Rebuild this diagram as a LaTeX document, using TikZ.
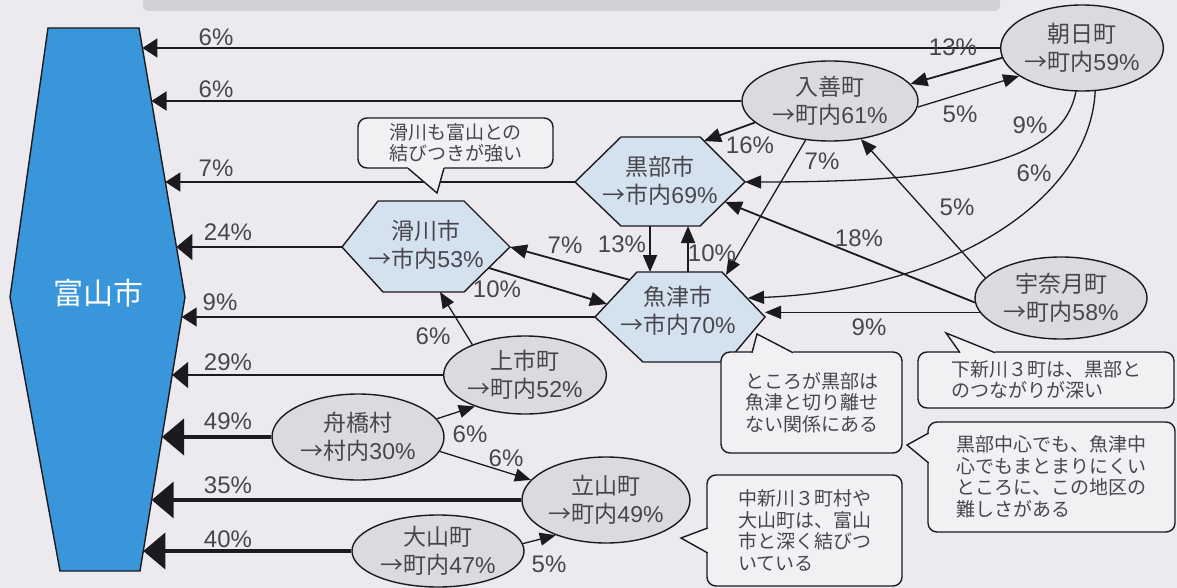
\documentclass[tikz,border=0pt]{standalone}
\usepackage{fontspec}
\setmainfont{Noto Sans CJK JP}
\newfontfamily\latin{Liberation Sans}
\usetikzlibrary{arrows.meta,shapes.geometric}
\definecolor{bg}{RGB}{236,234,238}
\definecolor{bannerc}{RGB}{210,208,213}
\definecolor{linec}{RGB}{28,26,30}
\definecolor{txt}{RGB}{72,70,76}
\definecolor{toyblue}{RGB}{58,150,218}
\definecolor{hexfill}{RGB}{212,226,240}
\definecolor{ellfill}{RGB}{219,218,222}
\definecolor{cfill}{RGB}{241,240,243}
\newcommand\ndfont{\fontsize{23}{28}\selectfont}
\newcommand\pcfont{\fontsize{24}{28}\selectfont\latin}
\newcommand\cofont{\fontsize{19}{21.5}\selectfont}
\newcommand\tyfont{\fontsize{30}{34}\selectfont}
\begin{document}
\begin{tikzpicture}[x=1pt,y=-1pt,
  hexc/.style={draw=linec,line width=1.4pt,fill=hexfill,line join=miter},
  town/.style={ellipse,draw=linec,line width=1.4pt,fill=ellfill,inner sep=0pt,align=center,font=\ndfont,text=txt},
  ntext/.style={align=center,font=\ndfont,text=txt,inner sep=0pt},
  pct/.style={font=\pcfont,text=txt,inner sep=0pt},
  flow/.style={draw=linec,line width=1.8pt,-{Triangle[length=17pt,width=14pt]}},
  thinflow/.style={draw=linec,line width=1.3pt,-{Triangle[length=16pt,width=13pt]}},
  tflow/.style={draw=linec,line width=1.6pt,-{Triangle[length=15pt,width=19pt]}},
  midflow/.style={draw=linec,line width=2.4pt,-{Triangle[length=16pt,width=26pt]}},
  bigflow/.style={draw=linec,line width=4pt,-{Triangle[length=22pt,width=36pt]}},
  callout/.style={draw=linec,line width=1.4pt,fill=cfill,rounded corners=9pt,align=left,font=\cofont,text=txt,inner sep=0pt},
]
\fill[bg] (0,0) rectangle (1177,588);
\useasboundingbox (0,0) rectangle (1177,588);
\fill[bannerc,rounded corners=6pt] (143,-12) rectangle (1000,11);

% Toyama
\filldraw[draw=linec,line width=1.4pt,fill=toyblue] (48,28) -- (139,28) -- (185,297) -- (140,571) -- (60,571) -- (10,297) -- cycle;
\node[font=\tyfont,text=white,inner sep=0pt] (toyama) at (98,293) {富山市};
\coordinate (t1) at (142.4,48);
\coordinate (t2) at (151.5,101);
\coordinate (t3) at (165.3,182);
\coordinate (t4) at (176.4,247);
\coordinate (t5) at (181.7,317);
\coordinate (t6) at (172.2,375);
\coordinate (t7) at (162,437);
\coordinate (t8) at (151.7,500);
\coordinate (t9) at (143.3,551);

% hexagon cities
\path[hexc] (575,182) -- (621,137) -- (700,137) -- (745,182) -- (700,226) -- (621,226) -- cycle;
\node[ntext] (kurobe) at (660,181) {黒部市\\→市内{\latin 69\%}};
\path[hexc] (342,247) -- (378,201) -- (464,201) -- (510,247) -- (464,292) -- (383,292) -- cycle;
\node[ntext] (namerikawa) at (426,245) {滑川市\\→市内{\latin 53\%}};
\path[hexc] (595,317) -- (637,272) -- (722,272) -- (765,317) -- (727,362) -- (643,362) -- cycle;
\node[ntext] (uozu) at (678,311) {魚津市\\→市内{\latin 70\%}};

\coordinate (kur-w) at (575,182);
\coordinate (kur-ne) at (704,141);
\coordinate (kur-e) at (745,182);
\coordinate (kur-se) at (725,202);
\coordinate (kur-s1) at (650,226);
\coordinate (kur-s2) at (688,226);
\coordinate (nam-w) at (342,247);
\coordinate (nam-e) at (510,247);
\coordinate (nam-se) at (489,268);
\coordinate (nam-s) at (440,292);
\coordinate (uoz-w) at (595,317);
\coordinate (uoz-nw) at (630,280);
\coordinate (uoz-wl) at (607,304);
\coordinate (uoz-n1) at (650,272);
\coordinate (uoz-n2) at (688,272);
\coordinate (uoz-ne) at (726,275);
\coordinate (uoz-ne2) at (748,298);
\coordinate (uoz-e) at (765,317);

% towns
\node[town,minimum width=152pt,minimum height=86pt] (asahi) at (1082,48) {朝日町\\→町内{\latin 59\%}};
\node[town,minimum width=176pt,minimum height=80pt] (nyuzen) at (830,101) {入善町\\→町内{\latin 61\%}};
\node[town,minimum width=172pt,minimum height=82pt] (unazuki) at (1061,298) {宇奈月町\\→町内{\latin 58\%}};
\node[town,minimum width=160pt,minimum height=78pt] (kamiichi) at (525,375) {上市町\\→町内{\latin 52\%}};
\node[town,minimum width=172pt,minimum height=86pt] (funahashi) at (358,437) {舟橋村\\→村内{\latin 30\%}};
\node[town,minimum width=168pt,minimum height=86pt] (tateyama) at (606,500) {立山町\\→町内{\latin 49\%}};
\node[town,minimum width=172pt,minimum height=72pt] (oyama) at (438,551) {大山町\\→町内{\latin 47\%}};

% flows to Toyama
\draw[tflow] (asahi.west) -- (t1);
\draw[tflow] (nyuzen.west) -- (t2);
\draw[tflow] (kur-w) -- (t3);
\draw[midflow] (nam-w) -- (t4);
\draw[tflow] (uoz-w) -- (t5);
\draw[midflow] (kamiichi.west) -- (t6);
\draw[bigflow] (funahashi.west) -- (t7);
\draw[bigflow] (tateyama.west) -- (t8);
\draw[bigflow] (oyama.west) -- (t9);

% other flows
\draw[flow] (asahi.187) -- (nyuzen.12);
\draw[thinflow] (nyuzen.-4) -- (asahi.204);
\draw[flow] (nyuzen.196) -- (kur-ne);
\draw[thinflow] (nyuzen.238) -- (uoz-ne);
\draw[thinflow] (asahi.262) .. controls (1062,165) and (950,182) .. (kur-e);
\draw[thinflow] (asahi.287) .. controls (1090,200) and (950,290) .. (uoz-ne2);
\draw[thinflow] (unazuki.165) -- (nyuzen.-51);
\draw[flow] (unazuki.183) -- (kur-se);
\draw[thinflow] (unazuki.190) -- (unazuki.190 -| uoz-e);
\draw[flow] (kur-s1) -- (uoz-n1);
\draw[flow] (uoz-n2) -- (kur-s2);
\draw[flow] (uoz-nw) -- (nam-e);
\draw[flow] (nam-se) -- (uoz-wl);
\draw[thinflow] (kamiichi.150) -- (nam-s);
\draw[thinflow] (funahashi.13) -- (kamiichi.212);
\draw[thinflow] (funahashi.-10) -- (tateyama.165);
\draw[thinflow] (oyama.5) -- (tateyama.215);

% percentage labels
\node[pct] (p1) at (216,37) {6\%};
\node[pct] (p2) at (216,89) {6\%};
\node[pct] (p3) at (216,168) {7\%};
\node[pct] (p4) at (228,232) {24\%};
\node[pct] (p5) at (220,302) {9\%};
\node[pct] (p6) at (228,362) {29\%};
\node[pct] (p7) at (228,421) {49\%};
\node[pct] (p8) at (228,485) {35\%};
\node[pct] (p9) at (228,539) {40\%};
\node[pct] (p10) at (953,47) {13\%};
\node[pct] (p11) at (960,114) {5\%};
\node[pct] (p12) at (750,145) {16\%};
\node[pct] (p13) at (822,161) {7\%};
\node[pct] (p14) at (1030,125) {9\%};
\node[pct] (p15) at (1034,173) {6\%};
\node[pct] (p16) at (957,207) {5\%};
\node[pct] (p17) at (859,238) {18\%};
\node[pct] (p18) at (869,327) {9\%};
\node[pct] (p19) at (565,245) {7\%};
\node[pct] (p20) at (622,244) {13\%};
\node[pct] (p21) at (712,253) {10\%};
\node[pct] (p22) at (497,289) {10\%};
\node[pct] (p23) at (433,336) {6\%};
\node[pct] (p24) at (470,434) {6\%};
\node[pct] (p25) at (506,458) {6\%};
\node[pct] (p26) at (549,564) {5\%};

% callouts
\node[callout,minimum width=195pt,minimum height=50pt] (c1) at (455.5,143) {滑川も富山との\\結びつきが強い};
\fill[cfill] (408,164) -- (408,169) -- (437,193) -- (444,169) -- (444,164) -- cycle;
\draw[draw=linec,line width=1.4pt,line join=miter] (408,168.3) -- (437,193) -- (444,168.3);

\node[callout,minimum width=181pt,minimum height=101pt] (c2) at (811.5,402.5) {ところが黒部は\\魚津と切り離せ\\ない関係にある};
\fill[cfill] (752,356) -- (752,351) -- (757,334) -- (793,351) -- (793,356) -- cycle;
\draw[draw=linec,line width=1.4pt,line join=miter] (752,352.7) -- (757,334) -- (793,352.7);

\node[callout,minimum width=256pt,minimum height=56pt] (c3) at (1046,380) {下新川３町は、黒部と\\のつながりが深い};
\fill[cfill] (960,356) -- (960,351) -- (946,333) -- (995,351) -- (995,356) -- cycle;
\draw[draw=linec,line width=1.4pt,line join=miter] (960,352.7) -- (946,333) -- (995,352.7);

\node[callout,minimum width=247pt,minimum height=110pt] (c4) at (1051.5,477) {黒部中心でも、魚津中\\心でもまとまりにくい\\ところに、この地区の\\難しさがある};
\fill[cfill] (932,433) -- (927,433) -- (907,445) -- (927,463) -- (932,463) -- cycle;
\draw[draw=linec,line width=1.4pt,line join=miter] (928.7,433) -- (907,445) -- (928.7,463);

\node[callout,minimum width=195pt,minimum height=111pt] (c5) at (804.5,530.5) {中新川３町村や\\大山町は、富山\\市と深く結びつ\\いている};
\fill[cfill] (711,528) -- (706,528) -- (681,538) -- (706,553) -- (711,553) -- cycle;
\draw[draw=linec,line width=1.4pt,line join=miter] (707.7,528) -- (681,538) -- (707.7,553);
\end{tikzpicture}
\end{document}
